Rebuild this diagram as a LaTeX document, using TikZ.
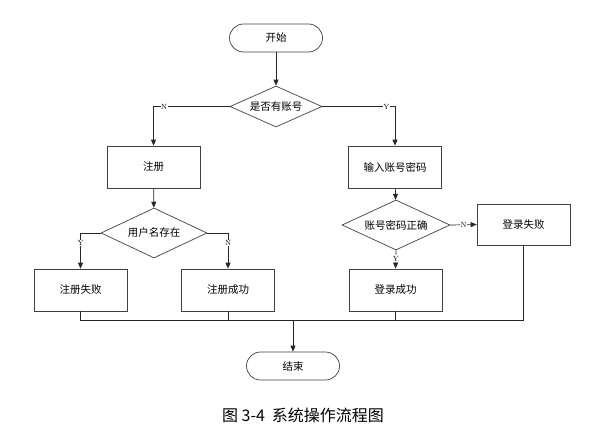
\documentclass[tikz,border=0pt]{standalone}
\usepackage{fontspec}
\usepackage{tikz}
\newfontfamily\cjk{Noto Sans CJK SC}
\usetikzlibrary{shapes,shapes.geometric,arrows,positioning,calc,arrows.meta}

\begin{document}
\begin{tikzpicture}[
    x=1pt, y=-1pt,
    line width=0.7pt,
    base/.style={draw=black!75, font=\cjk\fontsize{10.5}{12}\selectfont, inner sep=1pt},
    term/.style={base, rectangle, rounded corners=14pt, minimum width=93pt, minimum height=28pt},
    proc/.style={base, rectangle, minimum width=93pt, minimum height=42pt},
    ask/.style={base, diamond, aspect=2.2, inner sep=0.5pt},
    arr/.style={draw=black!85, -{Triangle[length=6pt,width=5pt]}},
    lab/.style={fill=white, inner sep=0.6pt, font=\fontsize{7.5}{8}\selectfont}
]
    \useasboundingbox (0,0) rectangle (604,434);

    % Nodes
    \node [term] (start) at (276,38) {开始};
    \node [ask, minimum width=92pt, minimum height=41pt] (hasacc) at (276,106.5) {是否有账号};
    \node [proc] (reg) at (153.5,167) {注册};
    \node [proc] (input) at (395,167) {输入账号密码};
    \node [ask, minimum width=106pt, minimum height=50pt] (exists) at (154,233) {用户名存在};
    \node [ask, minimum width=108pt, minimum height=50pt] (check) at (396,225) {账号密码正确};
    \node [proc] (regfail) at (80.5,290) {注册失败};
    \node [proc] (regok) at (228,290) {注册成功};
    \node [proc] (logok) at (395.5,290) {登录成功};
    \node [proc, minimum height=41pt] (logfail) at (523.5,224.5) {登录失败};
    \node [term] (stop) at (293,366) {结束};
    \coordinate (join) at (293,320);

    % Connectors
    \draw [arr] (start) -- (hasacc);
    \draw [arr] (hasacc.west) -| node [lab, pos=0.43] {N} (reg.north);
    \draw [arr] (hasacc.east) -| node [lab, pos=0.44] {Y} (input.north);
    \draw [arr] (reg) -- (exists);
    \draw [arr] (exists.west) -| node [lab, pos=0.64] {Y} (regfail.north);
    \draw [arr] (exists.east) -| node [lab, pos=0.64] {N} (regok.north);
    \draw [arr] (input) -- (check);
    \draw [arr] (check.east) -- node [lab] {N} (logfail.west);
    \draw [arr] (check.south) -- node [lab, pos=0.45] {Y} (logok.north);

    % Merge
    \draw [draw=black!85] (regfail.south) |- (logfail.south |- join) -- (logfail.south);
    \draw [draw=black!85] (regok.south) -- (regok.south |- join);
    \draw [draw=black!85] (logok.south) -- (logok.south |- join);
    \draw [arr] (join) -- (stop);

    \node [font=\cjk\fontsize{16}{18}\selectfont] (caption) at (303,415) {图 3-4\hspace{7pt}系统操作流程图};
\end{tikzpicture}
\end{document}
